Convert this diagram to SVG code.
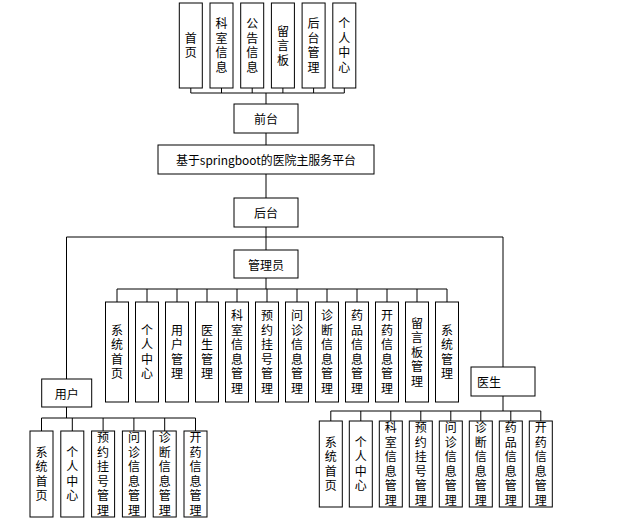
<svg xmlns="http://www.w3.org/2000/svg" width="621" height="524" viewBox="0 0 621 524">
<style>
rect{fill:#fff;stroke:#000;stroke-width:1}
#connectors path{fill:none;stroke:#000;stroke-width:1}
text{font-family:"Noto Sans CJK SC","Liberation Sans",sans-serif;font-size:12px;fill:#000;text-anchor:middle;dominant-baseline:central}
.v{writing-mode:vertical-rl;letter-spacing:2.5px}
.l{text-anchor:start}
</style>
<rect x="0" y="0" width="621" height="524" style="stroke:none"/>
<g id="connectors">
<path d="M190.8 88V93M221.5 88V93M252.2 88V93M282.9 88V93M313.6 88V93M344.3 88V93M190.8 93H344.3M266 93V104"/>
<path d="M266 133V145M266 174V198M266 227V250"/>
<path d="M66.5 237H503M66.5 237V379M503 237V367"/>
<path d="M266 278V289M117 289H447M117 289V302M147 289V302M177 289V302M207 289V302M237 289V302M267 289V302M297 289V302M327 289V302M357 289V302M387 289V302M417 289V302M447 289V302"/>
<path d="M66.5 407V418M41.5 418H195.5M41.5 418V431M72.3 418V431M103.1 418V431M133.9 418V431M164.7 418V431M195.5 418V431"/>
<path d="M503 396V411M330.8 411H540.8M330.8 411V421M360.8 411V421M390.8 411V421M420.8 411V421M450.8 411V421M480.8 411V421M510.8 411V421M540.8 411V421"/>
</g>
<g id="top-1"><rect x="179.3" y="3" width="23" height="85"/><text class="v" x="190.8" y="46.75">首页</text></g>
<g id="top-2"><rect x="210" y="3" width="23" height="85"/><text class="v" x="221.5" y="46.75">科室信息</text></g>
<g id="top-3"><rect x="240.7" y="3" width="23" height="85"/><text class="v" x="252.2" y="46.75">公告信息</text></g>
<g id="top-4"><rect x="271.4" y="3" width="23" height="85"/><text class="v" x="282.9" y="46.75">留言板</text></g>
<g id="top-5"><rect x="302.1" y="3" width="23" height="85"/><text class="v" x="313.6" y="46.75">后台管理</text></g>
<g id="top-6"><rect x="332.8" y="3" width="23" height="85"/><text class="v" x="344.3" y="46.75">个人中心</text></g>
<g id="qiantai"><rect x="234" y="104" width="64" height="29"/><text x="266" y="118.5">前台</text></g>
<g id="main"><rect x="158" y="145" width="216" height="29"/><text x="266" y="159.5" textLength="180" lengthAdjust="spacingAndGlyphs">基于springboot的医院主服务平台</text></g>
<g id="houtai"><rect x="234" y="198" width="64" height="29"/><text x="266" y="212.5">后台</text></g>
<g id="admin"><rect x="234" y="250" width="64" height="28"/><text x="266" y="264">管理员</text></g>
<g id="admin-1"><rect x="105.5" y="302" width="23" height="100"/><text class="v" x="117" y="353.25">系统首页</text></g>
<g id="admin-2"><rect x="135.5" y="302" width="23" height="100"/><text class="v" x="147" y="353.25">个人中心</text></g>
<g id="admin-3"><rect x="165.5" y="302" width="23" height="100"/><text class="v" x="177" y="353.25">用户管理</text></g>
<g id="admin-4"><rect x="195.5" y="302" width="23" height="100"/><text class="v" x="207" y="353.25">医生管理</text></g>
<g id="admin-5"><rect x="225.5" y="302" width="23" height="100"/><text class="v" x="237" y="353.25">科室信息管理</text></g>
<g id="admin-6"><rect x="255.5" y="302" width="23" height="100"/><text class="v" x="267" y="353.25">预约挂号管理</text></g>
<g id="admin-7"><rect x="285.5" y="302" width="23" height="100"/><text class="v" x="297" y="353.25">问诊信息管理</text></g>
<g id="admin-8"><rect x="315.5" y="302" width="23" height="100"/><text class="v" x="327" y="353.25">诊断信息管理</text></g>
<g id="admin-9"><rect x="345.5" y="302" width="23" height="100"/><text class="v" x="357" y="353.25">药品信息管理</text></g>
<g id="admin-10"><rect x="375.5" y="302" width="23" height="100"/><text class="v" x="387" y="353.25">开药信息管理</text></g>
<g id="admin-11"><rect x="405.5" y="302" width="23" height="100"/><text class="v" x="417" y="353.25">留言板管理</text></g>
<g id="admin-12"><rect x="435.5" y="302" width="23" height="100"/><text class="v" x="447" y="353.25">系统管理</text></g>
<g id="user"><rect x="41.7" y="379" width="50" height="28"/><text x="66.7" y="393">用户</text></g>
<g id="user-1"><rect x="30" y="431" width="23" height="86"/><text class="v" x="41.5" y="475.25">系统首页</text></g>
<g id="user-2"><rect x="60.8" y="431" width="23" height="86"/><text class="v" x="72.3" y="475.25">个人中心</text></g>
<g id="user-3"><rect x="91.6" y="431" width="23" height="86"/><text class="v" x="103.1" y="475.25">预约挂号管理</text></g>
<g id="user-4"><rect x="122.4" y="431" width="23" height="86"/><text class="v" x="133.9" y="475.25">问诊信息管理</text></g>
<g id="user-5"><rect x="153.2" y="431" width="23" height="86"/><text class="v" x="164.7" y="475.25">诊断信息管理</text></g>
<g id="user-6"><rect x="184" y="431" width="23" height="86"/><text class="v" x="195.5" y="475.25">开药信息管理</text></g>
<g id="doctor"><rect x="471" y="367" width="64" height="29"/><text class="l" x="477" y="381.5">医生</text></g>
<g id="doctor-1"><rect x="319.3" y="421" width="23" height="86"/><text class="v" x="330.8" y="465.25">系统首页</text></g>
<g id="doctor-2"><rect x="349.3" y="421" width="23" height="86"/><text class="v" x="360.8" y="465.25">个人中心</text></g>
<g id="doctor-3"><rect x="379.3" y="421" width="23" height="86"/><text class="v" x="390.8" y="465.25">科室信息管理</text></g>
<g id="doctor-4"><rect x="409.3" y="421" width="23" height="86"/><text class="v" x="420.8" y="465.25">预约挂号管理</text></g>
<g id="doctor-5"><rect x="439.3" y="421" width="23" height="86"/><text class="v" x="450.8" y="465.25">问诊信息管理</text></g>
<g id="doctor-6"><rect x="469.3" y="421" width="23" height="86"/><text class="v" x="480.8" y="465.25">诊断信息管理</text></g>
<g id="doctor-7"><rect x="499.3" y="421" width="23" height="86"/><text class="v" x="510.8" y="465.25">药品信息管理</text></g>
<g id="doctor-8"><rect x="529.3" y="421" width="23" height="86"/><text class="v" x="540.8" y="465.25">开药信息管理</text></g>
</svg>
